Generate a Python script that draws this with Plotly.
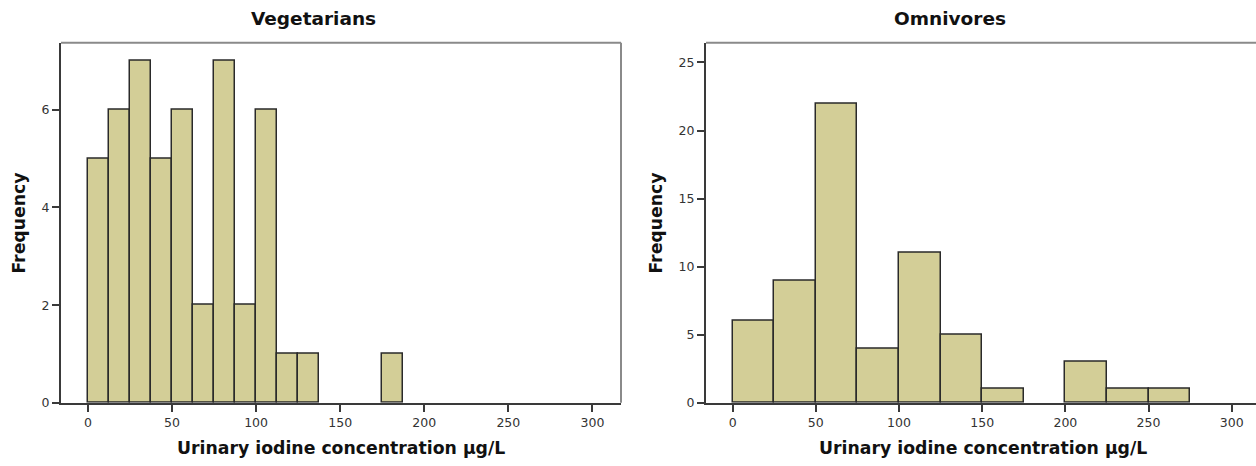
import plotly.graph_objects as go

# Vegetarians: bins of 12.5 µg/L
veg_edges = [0, 12.5, 25, 37.5, 50, 62.5, 75, 87.5, 100, 112.5, 125, 137.5,
             150, 162.5, 175, 187.5]
veg_counts = [5, 6, 7, 5, 6, 2, 7, 2, 6, 1, 1, 0, 0, 0, 1]

# Omnivores: bins of 25 µg/L
omn_edges = [0, 25, 50, 75, 100, 125, 150, 175, 200, 225, 250, 275]
omn_counts = [6, 9, 22, 4, 11, 5, 1, 0, 3, 1, 1]

x_ticks = [0, 50, 100, 150, 200, 250, 300]
veg_y_ticks = [0, 2, 4, 6]
omn_y_ticks = [0, 5, 10, 15, 20, 25]

titles = ["Vegetarians", "Omnivores"]
x_title = "Urinary iodine concentration µg/L"
y_title = "Frequency"

FONT = "DejaVu Sans, Verdana, sans-serif"
BAR = "#d3ce97"
EDGE = "#2a2a2a"
AXIS = "#3a3a3a"
FRAME = "#8a8a8a"
W, H = 1256, 466

# pixel layout of the two panels
TOP, BOTTOM = 43.4, 409.0
PANELS = [(61, 621), (706, 1260)]
X_RANGE = [-16, 317]


def bars(edges, counts, xa, ya):
    lows = edges[:-1]
    highs = edges[1:]
    centers = [(a + b) / 2 for a, b in zip(lows, highs)]
    widths = [b - a for a, b in zip(lows, highs)]
    # empty bins get no outline
    edge_w = [1.5 if c > 0 else 0 for c in counts]
    return go.Bar(x=centers, y=counts, width=widths, xaxis=xa, yaxis=ya,
                  marker=dict(color=BAR, line=dict(color=EDGE, width=edge_w)),
                  showlegend=False, hoverinfo="x+y")


fig = go.Figure()
fig.add_trace(bars(veg_edges, veg_counts, "x", "y"))
fig.add_trace(bars(omn_edges, omn_counts, "x2", "y2"))

y_dom = [1 - BOTTOM / H, 1 - TOP / H]
tickfont = dict(family=FONT, size=12.5, color="#333333")


def xdom(p):
    l, r = p
    return [l / W, min(r / W, 1.0)]


def xrange_for(p):
    # keep the same scale when the right panel runs past the page edge
    l, r = p
    span = X_RANGE[1] - X_RANGE[0]
    if r > W:
        return [X_RANGE[0], X_RANGE[0] + span * (W - l) / (r - l)]
    return X_RANGE


common_x = dict(tickvals=x_ticks, ticks="outside", ticklen=7, tickwidth=1.5,
                tickcolor=AXIS, showgrid=False, zeroline=False, showline=True,
                linecolor=AXIS, linewidth=2, tickfont=tickfont)
common_y = dict(ticks="outside", ticklen=7, tickwidth=1.5, tickcolor=AXIS,
                showgrid=False, zeroline=False, showline=True, linecolor=AXIS,
                linewidth=2, tickfont=tickfont)

fig.update_layout(
    width=W, height=H,
    margin=dict(l=0, r=0, t=0, b=0),
    paper_bgcolor="white", plot_bgcolor="white",
    bargap=0,
    font=dict(family=FONT),
    xaxis=dict(domain=xdom(PANELS[0]), range=xrange_for(PANELS[0]),
               anchor="y", **common_x),
    yaxis=dict(domain=y_dom, range=[0, 7.37], tickvals=veg_y_ticks,
               anchor="x", **common_y),
    xaxis2=dict(domain=xdom(PANELS[1]), range=xrange_for(PANELS[1]),
                anchor="y2", **common_x),
    yaxis2=dict(domain=y_dom, range=[0, 26.45], tickvals=omn_y_ticks,
                anchor="x2", **common_y),
)

# lighter top and right frame lines
for l, r in PANELS:
    fig.add_shape(type="line", xref="paper", yref="paper",
                  x0=l / W, x1=min(r / W, 1.0), y0=y_dom[1], y1=y_dom[1],
                  line=dict(color=FRAME, width=2))
    if r <= W:
        fig.add_shape(type="line", xref="paper", yref="paper",
                      x0=r / W, x1=r / W, y0=y_dom[0], y1=y_dom[1],
                      line=dict(color=FRAME, width=2))

title_font = dict(family=FONT, size=18.5, color="#111111")
label_font = dict(family=FONT, size=17.3, color="#111111")

for text, cx in zip(titles, [313, 950]):
    fig.add_annotation(text=f"<b>{text}</b>", x=cx / W, y=1 - 18.5 / H,
                       xref="paper", yref="paper", showarrow=False,
                       font=title_font, xanchor="center", yanchor="middle")

for l, r in PANELS:
    cx = (l + r) / 2
    fig.add_annotation(text=f"<b>{x_title}</b>", x=cx / W, y=1 - 455 / H,
                       xref="paper", yref="paper", showarrow=False,
                       font=label_font, xanchor="center", yanchor="middle")

for cx in [19, 656]:
    fig.add_annotation(text=f"<b>{y_title}</b>", x=cx / W, y=1 - 227 / H,
                       xref="paper", yref="paper", showarrow=False,
                       textangle=-90, font=label_font,
                       xanchor="center", yanchor="middle")

fig.write_html("out.html")
